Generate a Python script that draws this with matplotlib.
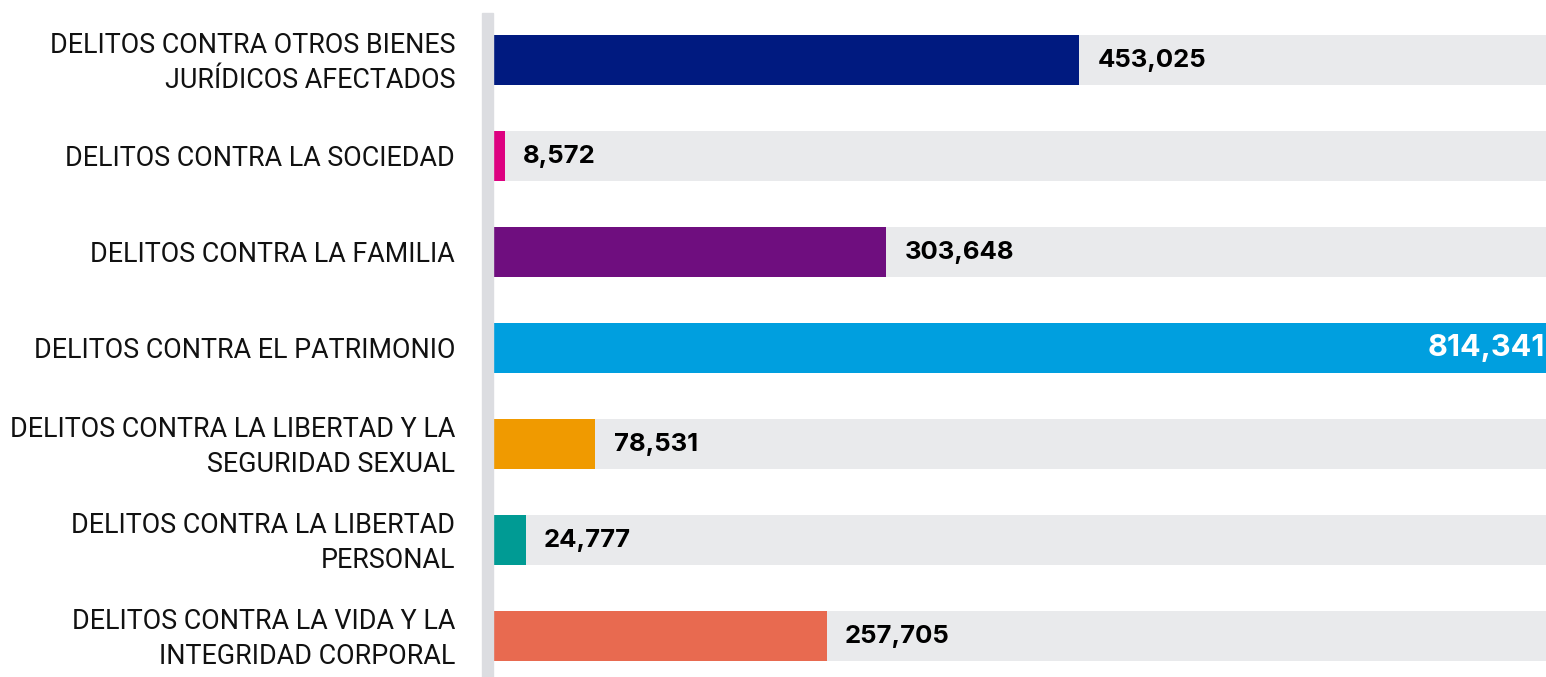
import matplotlib.pyplot as plt
from matplotlib.patches import Rectangle

categories = [
    "DELITOS CONTRA OTROS BIENES\nJURÍDICOS AFECTADOS",
    "DELITOS CONTRA LA SOCIEDAD",
    "DELITOS CONTRA LA FAMILIA",
    "DELITOS CONTRA EL PATRIMONIO",
    "DELITOS CONTRA LA LIBERTAD Y LA\nSEGURIDAD SEXUAL",
    "DELITOS CONTRA LA LIBERTAD\nPERSONAL",
    "DELITOS CONTRA LA VIDA Y LA\nINTEGRIDAD CORPORAL",
]
values = [453025, 8572, 303648, 814341, 78531, 24777, 257705]
colors = ["#001a80", "#dd0080", "#6f0e7f", "#009fdf", "#f09a00", "#009b94", "#e86a50"]

W, H = 1546, 677
fig = plt.figure(figsize=(W / 100, H / 100), dpi=100)
ax = fig.add_axes([494 / W, 0, 1 - 494 / W, (H - 13) / H])

xmax = max(values)
ypos = list(range(len(values)))
ax.barh(ypos, [xmax] * len(values), height=0.52, color="#e9eaec", zorder=1)
ax.barh(ypos, values, height=0.52, color=colors, zorder=2)
ax.set_xlim(0, xmax)
ax.set_ylim(6.427, -0.49)
ax.axis("off")

for y, v, lab in zip(ypos, values, categories):
    txt = f"{v:,}"
    if v == xmax:
        ax.annotate(txt, (v, y), xytext=(-1, 0), textcoords="offset points",
                    ha="right", va="center", fontsize=22, fontweight="bold",
                    color="white", family="Inter", zorder=3)
    else:
        ax.annotate(txt, (v, y), xytext=(13, 0), textcoords="offset points",
                    ha="left", va="center", fontsize=18.5, fontweight="bold",
                    color="black", family="Inter", zorder=3)
    ax.annotate(lab, (0, y), xytext=(-28, -2), textcoords="offset points",
                ha="right", va="center", fontsize=19.4, color="#111111",
                family="Roboto", linespacing=1.4, annotation_clip=False)

# vertical grey rule left of the bars
fig.patches.append(Rectangle((482 / W, 0), 11 / W, (H - 13) / H,
                             transform=fig.transFigure, color="#dcdde1", zorder=0))

fig.savefig("out.png", dpi=100)
